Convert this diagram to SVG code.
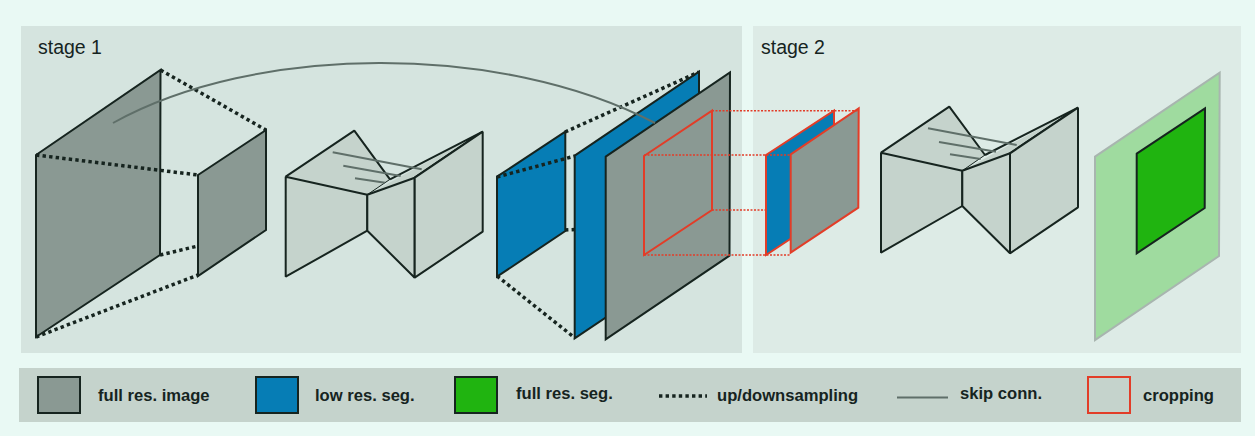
<svg xmlns="http://www.w3.org/2000/svg" width="1255" height="436" viewBox="0 0 1255 436">
<style>
.img{fill:#8a9993;stroke:#16241f;stroke-width:2;stroke-linejoin:miter}
.low{fill:#067db5;stroke:#16241f;stroke-width:2}
.seg{fill:#20b410;stroke:#16241f;stroke-width:2}
.net{fill:#c5d3cc;stroke:#16241f;stroke-width:2;stroke-linejoin:bevel}
.nf{fill:#c5d3cc;stroke:none}
.ne{fill:none;stroke:#16241f;stroke-width:2;stroke-linejoin:bevel}
.thin{fill:none;stroke:#16241f;stroke-width:1}
.ci{fill:#8a9993;stroke:#e23d28;stroke-width:2}
.cl{fill:#067db5;stroke:#e23d28;stroke-width:2}
.crop{fill:none;stroke:#e23d28;stroke-width:2}
.dot{fill:none;stroke:#16241f;stroke-width:3.5;stroke-dasharray:3.4 3.2}
.rdot{fill:none;stroke:#e23d28;stroke-width:1.6;stroke-dasharray:2 1.5}
.skip{fill:none;stroke:#5f6f69;stroke-width:2}
text{font-family:"Liberation Sans",Arial,sans-serif;fill:#16241f}
.lg{font-size:16.6px;font-weight:bold}
.st{font-size:19.5px}
</style>
<rect width="1255" height="436" fill="#e9f9f4"/>
<rect x="21" y="26" width="721" height="327" fill="#d5e4df"/>
<rect x="753" y="26" width="488" height="327" fill="#ddebe6"/>
<rect x="19" y="368" width="1222" height="54" fill="#c5d3cc"/>
<text class="st" x="38" y="54">stage 1</text>
<text class="st" x="761" y="54">stage 2</text>

<g id="input-large"><polygon class="img" points="36,155 160.5,70 160,255 36,337"/></g>
<g id="input-small"><polygon class="img" points="198,175 266,130 266,230 198,276"/></g>

<g id="net-1">
<polygon class="nf" points="285.7,176.7 354.3,130.7 390,179.3 367.3,194.7"/>
<polygon class="nf" points="367.3,194.7 482.7,131.7 414.7,177.7"/>
<path class="ne" d="M285.7,176.7L354.3,130.7L390,179.3"/>
<path class="thin" d="M367.3,194.7L390,179.3"/>
<path class="ne" d="M390,179.3L482.7,131.7L414.7,177.7"/>
<polygon class="net" points="285.7,176.7 367.3,194.7 367.3,230.7 285.7,276.7"/>
<polygon class="net" points="367.3,194.7 414.7,177.7 414.7,277.7 367.3,230.7"/>
<polygon class="net" points="414.7,177.7 482.7,131.7 482.7,231.7 414.7,277.7"/>
</g>

<g id="seg-small"><polygon class="low" points="497,176.7 565.3,131.7 565.3,231 497,276.7"/></g>
<g id="seg-large"><polygon class="low" points="574.7,155.7 699,71.7 699,255 574.7,338.3"/></g>
<g id="image-large"><polygon class="img" points="605.7,156.7 730,72.3 729.5,255.7 605.7,339.3"/></g>
<g id="crop-box"><polygon class="crop" points="644,156 712,110.7 712,210 644,255"/></g>
<g id="crop-seg"><polygon class="cl" points="766,155 834,110.7 834,210 766,255"/></g>
<g id="crop-image"><polygon class="ci" points="790.7,154.3 858.7,108.3 858.3,207.7 790.7,252.7"/></g>

<g id="net-2">
<polygon class="nf" points="881,152.7 949.3,106.7 985,155 962.3,170.7"/>
<polygon class="nf" points="962.3,170.7 1078,107.7 1010,153.3"/>
<path class="ne" d="M881,152.7L949.3,106.7L985,155"/>
<path class="thin" d="M962.3,170.7L985,155"/>
<path class="ne" d="M985,155L1078,107.7L1010,153.3"/>
<polygon class="net" points="881,152.7 962.3,170.7 962.3,206 881,252.7"/>
<polygon class="net" points="962.3,170.7 1010,153.3 1010,253.3 962.3,206"/>
<polygon class="net" points="1010,153.3 1078,107.7 1078,207.3 1010,253.3"/>
</g>

<g id="output">
<polygon points="1095,156.7 1219.7,72.7 1219,256 1095,340" fill="#9fdb9f" stroke="#a8b5af" stroke-width="2"/>
<polygon class="seg" points="1136.7,153.7 1205,108.3 1204.7,208 1136.7,253.3"/>
</g>

<g id="connectors">
<path class="dot" d="M160.5,70L266,130M36,155L198,175M160,255L198,246M36,337L198,275"/>
<path class="dot" d="M497,177L575,156M565,132L699,72M565,230L575,229.5M497,276L575,338"/>
<path class="rdot" d="M712,110.7H858.7M644,155H790.7M712,210H766M644,255H790.7"/>
<path class="skip" d="M113,123C255,44 500,42 655,123"/>
<path class="skip" d="M332.7,152.3L421.7,169.3M343.3,165.7L400.7,176M355,178.3L385,182.7"/>
<path class="skip" d="M928,128.3L1016.7,145M939,142L996,151.7M950,154.3L980.7,159"/>
</g>

<g id="legend-image"><rect class="img" x="38" y="377" width="42" height="36"/><text class="lg" x="98" y="401">full res. image</text></g>
<g id="legend-low"><rect class="low" x="256" y="377" width="42" height="36"/><text class="lg" x="315" y="401">low res. seg.</text></g>
<g id="legend-full"><rect class="seg" x="455" y="377" width="42" height="36"/><text class="lg" x="516" y="399">full res. seg.</text></g>
<g id="legend-updown"><path class="dot" d="M659,396H707"/><text class="lg" x="717" y="401">up/downsampling</text></g>
<g id="legend-skip"><path class="skip" d="M897,397.5H948"/><text class="lg" x="960" y="399">skip conn.</text></g>
<g id="legend-crop"><rect class="crop" x="1088" y="377" width="42" height="36"/><text class="lg" x="1143" y="401">cropping</text></g>
</svg>
